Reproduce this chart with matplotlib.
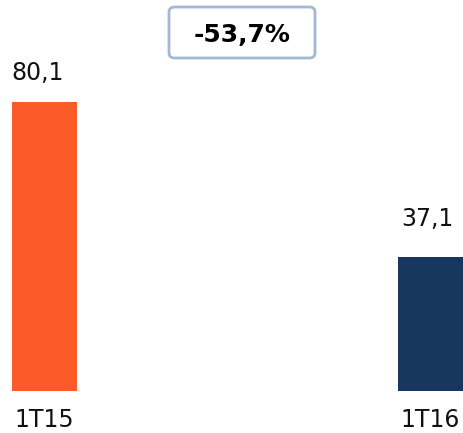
import matplotlib.pyplot as plt
from matplotlib.patches import FancyBboxPatch

# data
periods = ['1T15', '1T16']
values = [80.1, 37.1]
change_label = '-53,7%'
colors = ['#FA5B28', '#17375E']

fig = plt.figure(figsize=(4.63, 4.33), dpi=100)
ax = fig.add_axes([0, 42 / 433, 1, 391 / 433])

x = range(len(periods))
bars = ax.bar(x, values, width=0.168, color=colors)

ax.set_xlim(-0.1153, 1.0842)
ax.set_ylim(0, 108.4)
ax.axis('off')

# value labels above bars (the reference sits them at uneven heights)
label_offsets = [(-5, 12), (-2, 19)]
for b, v, off in zip(bars, values, label_offsets):
    ax.annotate(f'{v:.1f}'.replace('.', ','),
                (b.get_x() + b.get_width() / 2, v),
                xytext=off, textcoords='offset points',
                ha='center', va='bottom', fontsize=17, color='#111111')

# category labels under bars
for xi, p in zip(x, periods):
    ax.annotate(p, (xi, 0), xytext=(0, -26), textcoords='offset points',
                ha='center', va='baseline', fontsize=17, color='#111111')

# change box at top
box = FancyBboxPatch((169 / 463, 1 - 58 / 433), 146 / 463, 51 / 433,
                     boxstyle='round,pad=0,rounding_size=0.012',
                     transform=fig.transFigure, facecolor='white',
                     edgecolor='#A2B9D2', linewidth=2)
fig.patches.append(box)
fig.text(242 / 463, 1 - 35 / 433, change_label, ha='center', va='center',
         fontsize=18, fontweight='bold', color='black')

fig.savefig('out.png', dpi=100)
